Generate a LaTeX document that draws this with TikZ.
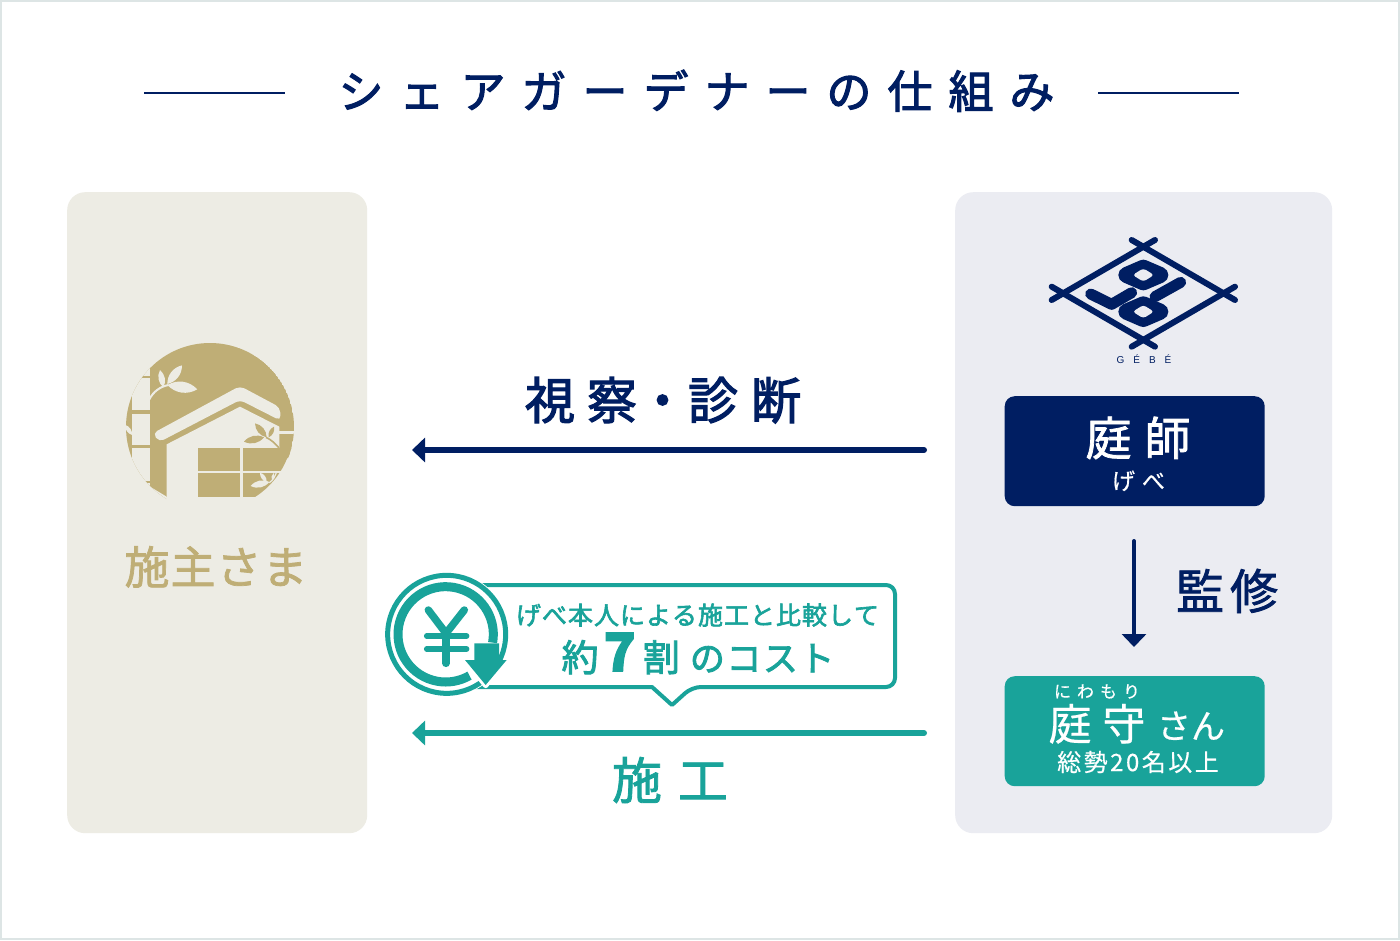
\documentclass[tikz,border=0pt]{standalone}
\usepackage{fontspec}
\usetikzlibrary{arrows.meta,calc}
\setmainfont{Noto Sans CJK JP}
\newfontfamily\jpreg[FakeBold=0.5]{Noto Sans CJK JP}
\newfontfamily\jpmed[FakeBold=1.6]{Noto Sans CJK JP}
\newfontfamily\jphvy[FakeBold=2.4]{Noto Sans CJK JP}
\newfontfamily\latinreg{Liberation Sans}
\definecolor{navy}{HTML}{001E62}
\definecolor{teal2}{HTML}{19A39A}
\definecolor{gold}{HTML}{BFAE76}
\definecolor{panelL}{HTML}{EDECE4}
\definecolor{panelR}{HTML}{EBECF2}
\definecolor{frame}{HTML}{DDE5E5}
\newcommand{\sized}[1]{\fontsize{#1}{#1}\selectfont}
\def\ls#1#2{\def\lsk{#2}\lsA#1\relax}
\def\lsA#1{#1\lsB}
\def\lsB#1{\ifx#1\relax\else\kern\lsk #1\expandafter\lsB\fi}
\tikzset{
  txt/.style={inner sep=0pt,outer sep=0pt,text depth=0pt,anchor=center},
  panel/.style={rounded corners=18pt,inner sep=0pt,anchor=north west},
  rolebox/.style={rounded corners=10pt,inner sep=0pt,minimum width=260pt,minimum height=110pt,anchor=north west},
  flow/.style={line width=6pt,line cap=round,-{Triangle[length=13pt,width=24pt]}},
  rule/.style={navy,line width=1.4pt},
}
\newcommand{\leaflet}[3]{\fill[#1] (#2) to[bend left=38] (#3) to[bend left=38] (#2) -- cycle;}
\begin{document}
\begin{tikzpicture}[x=1pt,y=-1pt]
\useasboundingbox (0,0) rectangle (1400,940);
\fill[white] (0,0) rectangle (1400,940);
\draw[frame,line width=2pt] (1,1) rectangle (1399,939);

% title
\coordinate (r1a) at (144,93); \coordinate (r1b) at (285,93);
\coordinate (r2a) at (1098,93); \coordinate (r2b) at (1239,93);
\draw[rule] (r1a) -- (r1b);
\draw[rule] (r2a) -- (r2b);
\node[txt,text=navy] (title) at (696.5,89) {\jphvy\sized{45}\ls{シェアガーデナーの仕組み}{16pt}};

% panels
\node[panel,fill=panelL,minimum width=300pt,minimum height=641pt] (ownerpanel) at (67,192) {};
\node[panel,fill=panelR,minimum width=377pt,minimum height=641pt] (gebepanel) at (955,192) {};

% house icon
\begin{scope}[shift={(110,330)},scale=0.33333]
\begin{scope}
\clip (300,291) circle (252);
\fill[gold] (300,291) circle (252);
\fill[panelL] (65,0) rectangle (120,540);
\fill[gold] (60,241) rectangle (120,251);
\fill[gold] (60,346) rectangle (120,354);
\fill[gold] (90,137) rectangle (120,143);
\fill[gold] (105,452) rectangle (120,458);
\leaflet{panelL}{46,285}{66,315}
\fill[panelL] (0,502) rectangle (600,560);
\fill[panelL] (120,470) -- (170,500) -- (120,510) -- cycle;
% roof
\fill[panelL,rounded corners=5pt] (128,310) -- (390,168) -- (510,232) -- (512,272) -- (390,210) -- (148,336) -- cycle;
% body
\fill[panelL] (170,343) -- (390,230) -- (508,290) -- (508,350) -- (528,385) -- (600,385) -- (600,560) -- (170,560) -- cycle;
\fill[panelL] (505,304) rectangle (560,311);
% windows
\fill[gold] (263,353) rectangle (390,422);
\fill[gold] (398,353) rectangle (560,422);
\fill[gold] (263,430) rectangle (390,500);
\fill[gold] (398,430) rectangle (560,500);
% leaves on the circle
\draw[panelL,line width=2pt] (118,208) .. controls (130,185) and (150,170) .. (175,165);
\leaflet{panelL}{160,172}{150,120}
\leaflet{panelL}{172,162}{216,106}
\leaflet{panelL}{172,165}{262,178}
% leaves on the house
\draw[gold,line width=1.6pt] (508,355) .. controls (495,340) and (485,330) .. (468,322);
\leaflet{gold}{470,322}{435,280}
\leaflet{gold}{476,322}{492,290}
\leaflet{gold}{462,322}{402,335}
% leaves on the window
\draw[panelL,line width=1.2pt] (500,425) .. controls (495,440) and (490,450) .. (478,458);
\leaflet{panelL}{478,456}{422,468}
\leaflet{panelL}{470,456}{450,428}
\leaflet{panelL}{486,452}{492,428}
\fill[panelL] (398,422) rectangle (560,430);
\end{scope}
\draw[panelL,line width=2.5pt] ($(300,291)+(22:254)$) arc[start angle=22,end angle=121,radius=254];
\end{scope}
\node[txt,text=gold] (owner) at (216,565) {\jpmed\sized{45}\ls{施主さま}{1pt}};

% arrow visit
\node[txt,text=navy] (visit) at (663,398) {\jphvy\sized{50}視\kern12pt 察\kern0.5pt ・\kern0.5pt 診\kern13pt 断};
\coordinate (visitfrom) at (924,450);
\coordinate (visitto) at (412,450);
\draw[flow,navy] (visitfrom) -- (visitto);

% bubble
\draw[teal2,line width=4pt,rounded corners=9pt,line join=round]
  (450,585) -- (895,585) -- (895,687) -- (692,687) [sharp corners] -- (672,705) -- (652,687) -- (450,687) -- cycle;
\node[txt,text=teal2] (bub1) at (697.5,614) {\jphvy\sized{25}\ls{げべ本人による施工と比較して}{1pt}};
\node[txt,text=teal2] (bub2) at (698,652) {\jphvy\fontsize{37}{37}\selectfont 約\hspace{5pt}{\bfseries\fontsize{53}{53}\selectfont 7}\hspace{7pt}割\hspace{10pt}\fontsize{35}{35}\selectfont \ls{のコスト}{1.5pt}};

% yen icon
\begin{scope}[shift={(375,565)},scale=0.33333]
\fill[white] (215,208) circle (187);
\draw[teal2,line width=5pt] (215,208) circle (177);
\draw[teal2,line width=9pt] ($(212,208)+(10:143)$) arc[start angle=10,end angle=-300,radius=143];
\draw[teal2,line width=7.5pt,line cap=round] (160,135) -- (213,205) -- (268,135);
\draw[teal2,line width=7.5pt,line cap=round] (213,205) -- (213,295);
\draw[teal2,line width=5.5pt,line cap=round] (155,213) -- (275,213);
\draw[teal2,line width=5.5pt,line cap=round] (155,252) -- (275,252);
\draw[white,line width=5pt,line join=round] (270,285) -- (332,362) -- (395,285);
\fill[teal2] (298,235) -- (372,235) -- (372,285) -- (395,285) -- (332,360) -- (270,285) -- (298,285) -- cycle;
\end{scope}

% arrow build
\coordinate (buildfrom) at (924,733);
\coordinate (buildto) at (412,733);
\draw[flow,teal2] (buildfrom) -- (buildto);
\node[txt,text=teal2] (build) at (670,778) {\jpmed\sized{50}\ls{施工}{16pt}};

% logo
\begin{scope}[shift={(1030,225)},scale=0.33333]
\draw[navy,line width=6pt,line cap=round] (65,225) -- (375,45);
\draw[navy,line width=6pt,line cap=round] (305,45) -- (615,225);
\draw[navy,line width=6pt,line cap=round] (65,185) -- (375,365);
\draw[navy,line width=6pt,line cap=round] (305,365) -- (615,185);
\foreach \cy in {150,260}{
  \filldraw[navy,line width=16pt,line join=round] (289,\cy) -- (340,\cy-22) -- (391,\cy) -- (340,\cy+22) -- cycle;
  \fill[panelR,rounded corners=3pt] (308,\cy) -- (340,\cy-20) -- (372,\cy) -- (340,\cy+20) -- cycle;
}
\draw[navy,line width=11pt,line cap=round,line join=round] (182,207) -- (245,238) -- (305,203);
\draw[navy,line width=11pt,line cap=round] (375,215) -- (452,172);
\end{scope}
\node[txt,text=navy] (gebe) at (1144,359) {\latinreg\sized{10}\ls{GÉBÉ}{9pt}};

% role boxes
\node[rolebox,fill=navy] (master) at (1004.5,396) {};
\node[txt,text=white] (mastername) at (1138,436) {\jpmed\sized{46}\ls{庭師}{13pt}};
\node[txt,text=white] (masterkana) at (1138.5,480) {\jpreg\sized{23}\ls{げべ}{7pt}};
\coordinate (supfrom) at (1134,541);
\coordinate (supto) at (1134,647);
\draw[navy,line width=4pt,line cap=round,-{Triangle[length=13pt,width=24pt]}] (supfrom) -- (supto);
\node[txt,text=navy] (super) at (1227,589) {\jpmed\sized{48}\ls{監修}{6pt}};
\node[rolebox,fill=teal2] (keeper) at (1004.5,676) {};
\node[txt,text=white] (kana) at (1097,691) {\jpreg\sized{17}\ls{にわもり}{6pt}};
\node[txt,text=white] (kname) at (1097,722) {\jpreg\sized{43}\ls{庭守}{11pt}};
\node[txt,text=white] (ksan) at (1191,725) {\jpreg\sized{34}さん};
\node[txt,text=white] (kcount) at (1138,761) {\jpreg\sized{24}\ls{総勢20名以上}{2.5pt}};
\end{tikzpicture}
\end{document}
